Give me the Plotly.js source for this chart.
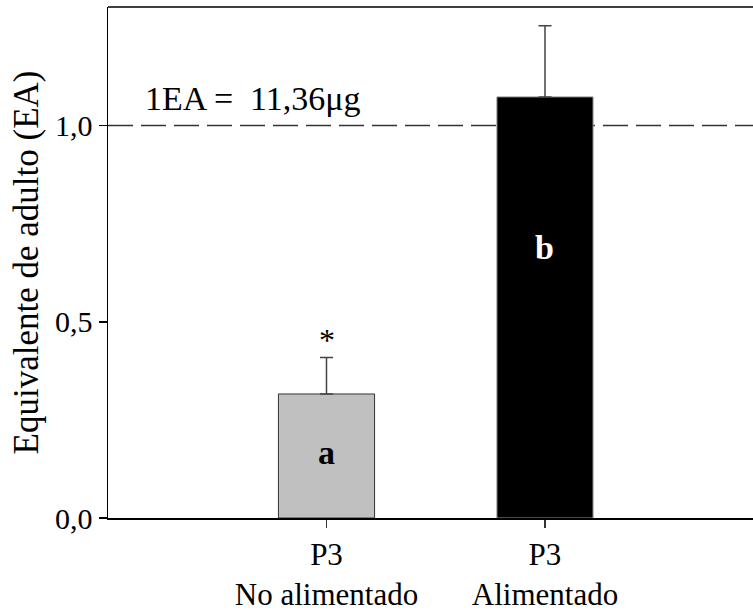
<!DOCTYPE html>
<html>
<head>
<meta charset="utf-8">
<script src="https://cdn.plot.ly/plotly-3.0.1.min.js"></script>
<style>
  html, body { margin: 0; padding: 0; background: #fff; }
  #chart { width: 753px; height: 612px; }
  #chart svg text { font-family: 'Liberation Serif', 'Times New Roman', serif !important; }
</style>
</head>
<body>
<div id="chart"></div>
<script>
// Groups on the x axis
const categories = ['P3<br>No alimentado', 'P3<br>Alimentado'];
// Mean adult-equivalent values and their upper error (SE)
const means = [0.316, 1.073];
const errorsUp = [0.093, 0.181];
// Significance letters written inside each bar
const groupLetters = ['a', 'b'];
// Reference level: 1 EA
const referenceLevel = 1.0;
const referenceLabel = '1EA =\u00a0\u00a011,36\u03bcg';
// Y axis ticks
const yTickVals = [0, 0.5, 1.0];
const yTickText = ['0,0', '0,5', '1,0'];

const serif = 'Liberation Serif';

const trace = {
  type: 'bar',
  x: categories,
  y: means,
  width: 0.44,
  marker: {
    color: ['#c0c0c0', '#000000'],
    line: { color: ['#333333', '#999999'], width: 1 }
  },
  error_y: {
    type: 'data',
    symmetric: false,
    array: errorsUp,
    arrayminus: [0, 0],
    color: '#444444',
    thickness: 1.5,
    width: 6.5
  },
  hoverinfo: 'skip'
};

const layout = {
  width: 753,
  height: 612,
  margin: { l: 108, r: 0, t: 7, b: 94 },
  paper_bgcolor: '#ffffff',
  plot_bgcolor: '#ffffff',
  showlegend: false,
  font: { family: serif, size: 30, color: '#000' },
  xaxis: {
    type: 'category',
    range: [-1, 1.952],
    showline: true,
    linecolor: '#000',
    linewidth: 1.5,
    showgrid: false,
    zeroline: false,
    ticks: 'outside',
    ticklen: 8,
    tickwidth: 1.5,
    tickcolor: '#333',
    tickfont: { family: serif, size: 31, color: '#000' }
  },
  yaxis: {
    range: [0, 1.302],
    showline: true,
    linecolor: '#000',
    linewidth: 1.5,
    showgrid: false,
    zeroline: false,
    ticks: 'outside',
    ticklen: 8,
    tickwidth: 1.5,
    tickcolor: '#000',
    tickvals: yTickVals,
    ticktext: yTickText,
    tickfont: { family: serif, size: 30, color: '#000' },
    title: {
      text: 'Equivalente de adulto (EA)',
      font: { family: serif, size: 35, color: '#000' },
      standoff: 6
    }
  },
  shapes: [
    // dashed reference line at 1 EA
    {
      type: 'line', layer: 'below',
      xref: 'paper', x0: 0, x1: 1,
      yref: 'y', y0: referenceLevel, y1: referenceLevel,
      line: { color: '#333', width: 1.5, dash: '25px,8px' }
    },
    // top border of the frame
    {
      type: 'line',
      xref: 'paper', x0: 0, x1: 1,
      yref: 'paper', y0: 1, y1: 1,
      line: { color: '#000', width: 1.5 }
    }
  ],
  annotations: [
    {
      text: referenceLabel,
      xref: 'paper', x: 0.054, xanchor: 'left',
      yref: 'y', y: 1.07, yanchor: 'middle',
      showarrow: false,
      font: { family: serif, size: 34, color: '#000' }
    },
    {
      text: '<b>' + groupLetters[0] + '</b>',
      xref: 'x', x: categories[0],
      yref: 'y', y: 0.168, yanchor: 'middle',
      showarrow: false,
      font: { family: serif, size: 34, color: '#000' }
    },
    {
      text: '<b>' + groupLetters[1] + '</b>',
      xref: 'x', x: categories[1],
      yref: 'y', y: 0.69, yanchor: 'middle',
      showarrow: false,
      font: { family: serif, size: 34, color: '#fff' }
    },
    {
      text: '*',
      xref: 'x', x: categories[0],
      yref: 'y', y: 0.453, yanchor: 'middle',
      showarrow: false,
      font: { family: serif, size: 32, color: '#000' }
    }
  ]
};

function draw() {
  Plotly.newPlot('chart', [trace], layout, { staticPlot: true, displayModeBar: false });
}

// make sure the serif face is ready before Plotly measures text
if (document.fonts && document.fonts.load) {
  Promise.all([
    document.fonts.load('30px "Liberation Serif"'),
    document.fonts.load('bold 30px "Liberation Serif"')
  ]).then(draw, draw);
} else {
  draw();
}
</script>
</body>
</html>
